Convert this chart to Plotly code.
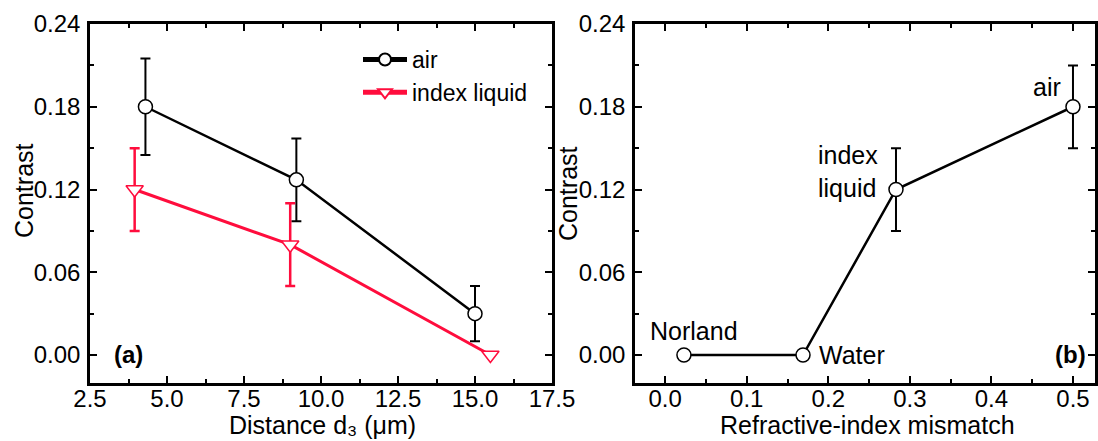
import plotly.graph_objects as go

# ---- panel (a): contrast vs distance d3 ----
air_d = [4.3, 9.2, 15.0]
air_c = [0.18, 0.127, 0.03]
air_err = [0.035, 0.03, 0.02]

liq_d = [3.95, 9.0, 15.5]
liq_c = [0.12, 0.08, 0.0]
liq_err = [0.03, 0.03, 0.0]

# ---- panel (b): contrast vs refractive-index mismatch ----
mis_x = [0.023, 0.169, 0.283, 0.5]
mis_c = [0.0, 0.0, 0.12, 0.18]
mis_err = [0.0, 0.0, 0.03, 0.03]
mis_labels = ["Norland", "Water", "index<br>liquid", "air"]

x_ticks_a = [2.5, 5.0, 7.5, 10.0, 12.5, 15.0, 17.5]
x_ticks_b = [0.0, 0.1, 0.2, 0.3, 0.4, 0.5]
y_ticks = [0.00, 0.06, 0.12, 0.18, 0.24]

FONT = "Liberation Sans, Arial, sans-serif"
RED = "#ff0d3d"
W, H = 1098, 441

def px(x):
    return x / W

def py(y):
    return 1 - y / H

fig = go.Figure()

fig.add_trace(go.Scatter(
    x=air_d, y=air_c, name="air", mode="lines+markers",
    line=dict(color="black", width=2.5),
    marker=dict(symbol="circle", size=14, color="white", line=dict(color="black", width=1.5)),
    error_y=dict(type="data", array=air_err, color="black", thickness=2, width=5),
    xaxis="x", yaxis="y"))

fig.add_trace(go.Scatter(
    x=liq_d, y=liq_c, name="index liquid", mode="lines+markers",
    line=dict(color=RED, width=3),
    marker=dict(symbol="triangle-down", size=15, color="white", line=dict(color=RED, width=1.5)),
    error_y=dict(type="data", array=liq_err, color=RED, thickness=2.5, width=5),
    xaxis="x", yaxis="y"))

fig.add_trace(go.Scatter(
    x=mis_x, y=mis_c, mode="lines+markers", showlegend=False,
    line=dict(color="black", width=2.5),
    marker=dict(symbol="circle", size=14, color="white", line=dict(color="black", width=1.5)),
    error_y=dict(type="data", array=mis_err, color="black", thickness=2, width=5),
    xaxis="x2", yaxis="y2"))

axis_common = dict(
    showline=True, linecolor="black", linewidth=2.5, mirror="ticks",
    ticks="inside", ticklen=7, tickwidth=2, tickcolor="black",
    showgrid=False, zeroline=False, automargin=False,
    tickfont=dict(family=FONT, size=24, color="black"),
)

ydom = [py(383), py(24)]
title_font = dict(family=FONT, size=25, color="black")

fig.update_layout(
    width=W, height=H,
    margin=dict(l=0, r=0, t=0, b=0),
    paper_bgcolor="white", plot_bgcolor="white",
    font=dict(family=FONT, color="black"),
    xaxis=dict(domain=[px(90), px(552)], range=[2.5, 17.5], tickvals=x_ticks_a,
               ticktext=[f"{v:.1f}" for v in x_ticks_a], ticklabelstandoff=-8,
               minor=dict(ticks="inside", ticklen=4, tickwidth=2, dtick=1.25, tickcolor="black"),
               anchor="y", **axis_common),
    yaxis=dict(domain=ydom, range=[-0.0203, 0.24], tickvals=y_ticks,
               ticktext=[f"{v:.2f}" for v in y_ticks], ticklabelstandoff=2,
               minor=dict(ticks="inside", ticklen=4, tickwidth=2, dtick=0.03, tickcolor="black"),
               anchor="x", **axis_common),
    xaxis2=dict(domain=[px(635), px(1095)], range=[-0.037, 0.527], tickvals=x_ticks_b,
                ticktext=[f"{v:.1f}" for v in x_ticks_b], ticklabelstandoff=-8,
                minor=dict(ticks="inside", ticklen=4, tickwidth=2, dtick=0.05, tickcolor="black"),
                anchor="y2", **axis_common),
    yaxis2=dict(domain=ydom, range=[-0.0203, 0.24], tickvals=y_ticks,
                ticktext=[f"{v:.2f}" for v in y_ticks], ticklabelstandoff=2,
                minor=dict(ticks="inside", ticklen=4, tickwidth=2, dtick=0.03, tickcolor="black"),
                anchor="x2", **axis_common),
    legend=dict(x=px(358), y=py(38), xanchor="left", yanchor="top",
                bgcolor="rgba(0,0,0,0)", font=dict(family=FONT, size=23),
                tracegroupgap=0, itemwidth=44, itemsizing="constant"),
    showlegend=True,
)

# axis titles
for xc, yc in [(24, 191), (568, 194)]:
    fig.add_annotation(text="Contrast", x=px(xc), y=py(yc), xref="paper", yref="paper",
                       xanchor="center", yanchor="middle", textangle=-90, showarrow=False,
                       font=title_font)
for xc, txt in [(322, "Distance d\u2083 (\u03bcm)"), (867, "Refractive-index mismatch")]:
    fig.add_annotation(text=txt, x=px(xc), y=py(441), xref="paper", yref="paper",
                       xanchor="center", yanchor="bottom", showarrow=False,
                       font=title_font)

# panel tags
fig.add_annotation(text="<b>(a)</b>", x=px(112), y=py(354), xref="paper", yref="paper",
                   xanchor="left", yanchor="middle", showarrow=False,
                   font=dict(family=FONT, size=24))
fig.add_annotation(text="<b>(b)</b>", x=px(1088), y=py(354), xref="paper", yref="paper",
                   xanchor="right", yanchor="middle", showarrow=False,
                   font=dict(family=FONT, size=24))

# point labels in panel (b)
label_pos = [  # (xshift, yshift, xanchor)
    (10, 24, "center"),
    (14, 0, "left"),
    (-80, 18, "left"),
    (-26, 20, "center"),
]
for xv, yv, lab, (dx, dy, xa) in zip(mis_x, mis_c, mis_labels, label_pos):
    fig.add_annotation(text=lab, x=xv, y=yv, xref="x2", yref="y2",
                       xshift=dx, yshift=dy, xanchor=xa, yanchor="middle", align="left",
                       showarrow=False, font=dict(family=FONT, size=25))

fig.write_html("out.html")
